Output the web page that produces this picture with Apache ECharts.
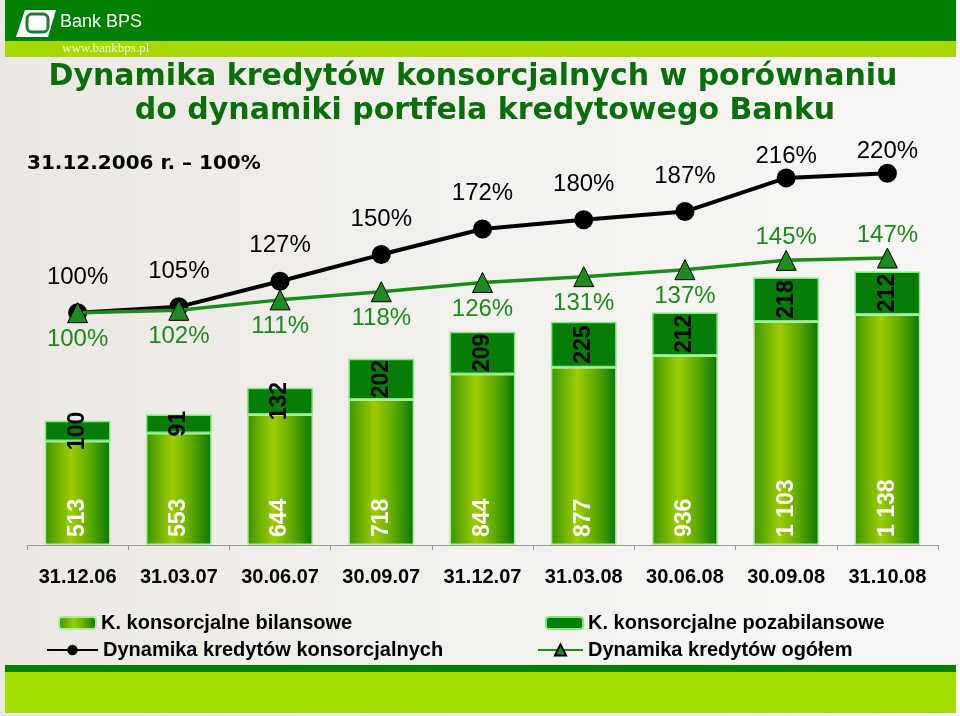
<!DOCTYPE html>
<html><head><meta charset="utf-8">
<script src="https://cdn.jsdelivr.net/npm/echarts@6/dist/echarts.min.js"></script>
<style>html,body{margin:0;padding:0;background:#fff}#c{width:960px;height:716px}</style>
</head><body><div id="c"></div>
<script>
const categories = ['31.12.06','31.03.07','30.06.07','30.09.07','31.12.07','31.03.08','30.06.08','30.09.08','31.10.08'];
const bilansowe = [513,553,644,718,844,877,936,1103,1138];
const pozabilansowe = [100,91,132,202,209,225,212,218,212];
const dynKonsorcjalnych = [100,105,127,150,172,180,187,216,220];
const dynOgolem = [100,102,111,118,126,131,137,145,147];

const names = ['K. konsorcjalne bilansowe','K. konsorcjalne pozabilansowe','Dynamika kredytów konsorcjalnych','Dynamika kredytów ogółem'];
const ARIAL = '"Liberation Sans", Arial, sans-serif';
const VERD = '"DejaVu Sans", Verdana, sans-serif';
const fmtNum = v => String(v).replace(/\B(?=(\d{3})+(?!\d))/g, ' ');

const barGrad = {type:'linear',x:0,y:0,x2:1,y2:0,colorStops:[
  {offset:0,color:'#3a9500'},{offset:0.4,color:'#9dcd00'},{offset:0.7,color:'#5aa800'},{offset:1,color:'#087808'}]};

const chart = echarts.init(document.getElementById('c'));
const legendBase = {orient:'vertical',padding:0,textStyle:{fontFamily:ARIAL,fontSize:20,fontWeight:'bold',color:'#000'},itemGap:8,selectedMode:false};
chart.setOption({
  backgroundColor:{type:'linear',x:0,y:0,x2:1,y2:0,colorStops:[{offset:0,color:'#ebe8e3'},{offset:0.5,color:'#f3f1ed'},{offset:1,color:'#f8f7f5'}]},
  animation:false,
  graphic:[
    {type:'rect',shape:{x:5,y:0,width:951,height:41},style:{fill:'#008000'}},
    {type:'rect',shape:{x:5,y:41,width:951,height:16},style:{fill:'#a6d900'}},
    {type:'polygon',shape:{points:[[25,10],[56,10],[48,37],[16,37]]},style:{fill:'#ffffff'}},
    {type:'rect',shape:{x:27,y:14,width:21,height:18,r:5},style:{fill:'none',stroke:'#1a7d3a',lineWidth:3}},
    {type:'text',x:60,y:22,style:{text:'Bank BPS',fontFamily:ARIAL,fontSize:18,fill:'#ffffff',verticalAlign:'middle'}},
    {type:'text',x:62,y:49,style:{text:'www.bankbps.pl',fontFamily:'"Liberation Serif", serif',fontSize:13,fill:'#f2f9dc',verticalAlign:'middle'}},
    {type:'text',x:473,y:77,style:{text:'Dynamika kredytów konsorcjalnych w porównaniu',fontFamily:VERD,fontWeight:'bold',fontSize:30,fill:'#0a6e0a',align:'center',verticalAlign:'middle'}},
    {type:'text',x:485,y:111,style:{text:'do dynamiki portfela kredytowego Banku',fontFamily:VERD,fontWeight:'bold',fontSize:30,fill:'#0a6e0a',align:'center',verticalAlign:'middle'}},
    {type:'text',x:27,y:164,style:{text:'31.12.2006 r. – 100%',fontFamily:VERD,fontWeight:'bold',fontSize:20,fill:'#000',verticalAlign:'middle'}},
    {type:'rect',shape:{x:5,y:665,width:951,height:7},style:{fill:'#008000'}},
    {type:'rect',shape:{x:5,y:672,width:951,height:41},style:{fill:'#a6dd00'}}
  ],
  legend:[
    Object.assign({},legendBase,{left:58,top:613,itemWidth:37,itemHeight:12,data:[names[0]]}),
    Object.assign({},legendBase,{left:46,top:640,itemWidth:51,itemHeight:13,data:[names[2]]}),
    Object.assign({},legendBase,{left:545,top:613,itemWidth:37,itemHeight:12,data:[names[1]]}),
    Object.assign({},legendBase,{left:537,top:640,itemWidth:45,itemHeight:14,data:[names[3]]})
  ],
  grid:{left:27,right:22,top:150,bottom:171},
  xAxis:{type:'category',data:categories,
    axisLine:{lineStyle:{color:'#999',width:1}},
    axisTick:{show:true,length:5,lineStyle:{color:'#999'}},
    axisLabel:{margin:22,fontFamily:ARIAL,fontWeight:'bold',fontSize:20,color:'#000'}},
  yAxis:[
    {type:'value',min:0,max:1950,show:false,splitLine:{show:false}},
    {type:'value',min:-100,max:240,show:false,splitLine:{show:false}}
  ],
  series:[
    {name:names[0],type:'bar',stack:'k',yAxisIndex:0,data:bilansowe,barWidth:'65%',
      itemStyle:{color:barGrad,borderColor:'#a8eea0',borderWidth:1.5},
      label:{show:true,position:'insideBottom',distance:8,rotate:90,align:'left',verticalAlign:'middle',
        formatter:p=>fmtNum(p.value),fontFamily:ARIAL,fontWeight:'bold',fontSize:23,color:'#fff'}},
    {name:names[1],type:'bar',stack:'k',yAxisIndex:0,data:pozabilansowe,
      itemStyle:{color:'#067d06',borderColor:'#7fe87f',borderWidth:1.5},
      label:{show:true,position:'inside',rotate:90,
        formatter:p=>fmtNum(p.value),fontFamily:ARIAL,fontWeight:'bold',fontSize:23,color:'#000'}},
    {name:names[2],type:'line',yAxisIndex:1,z:5,
      data:dynKonsorcjalnych.map((v,i)=> i>=7 ? {value:v,label:{distance:0}} : v),
      symbol:'circle',symbolSize:19,lineStyle:{color:'#000',width:4},itemStyle:{color:'#000'},
      label:{show:true,position:'top',distance:14,formatter:'{c}%',fontFamily:ARIAL,fontSize:24,color:'#000'}},
    {name:names[3],type:'line',yAxisIndex:1,z:6,
      data:dynOgolem.map((v,i)=> i>=7 ? {value:v,label:{position:'top',distance:0}} : v),
      symbol:'triangle',symbolSize:20,lineStyle:{color:'#1a8c1a',width:3.5},itemStyle:{color:'#1f8a1f',borderColor:'#000',borderWidth:1},
      label:{show:true,position:'bottom',distance:4,formatter:'{c}%',fontFamily:ARIAL,fontSize:24,color:'#1d8a1d'}}
  ]
});
</script></body></html>
